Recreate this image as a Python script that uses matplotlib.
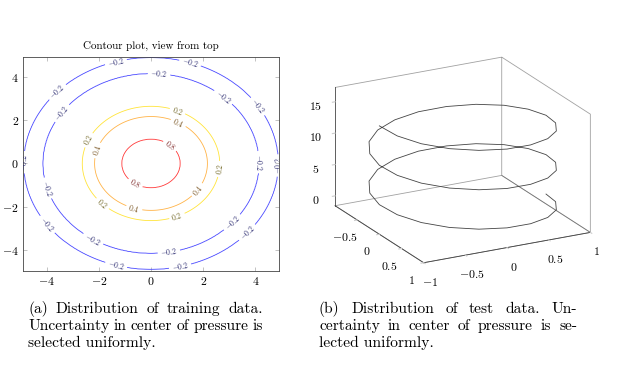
import numpy as np
import matplotlib.pyplot as plt

plt.rcParams['font.family'] = 'serif'
plt.rcParams['font.serif'] = ['cmr10']
plt.rcParams['mathtext.fontset'] = 'cm'
plt.rcParams['axes.formatter.use_mathtext'] = True

# contour plot: radial profile (radius -> value)
profile_r = [0.0, 1.12, 2.16, 2.63, 3.15, 4.13, 4.5, 4.88, 5.6]
profile_v = [1.0, 0.8, 0.4, 0.2, 0.0, -0.2, -0.22, -0.2, -0.1]
levels = [-0.2, 0.2, 0.4, 0.8]
line_colors = ['#4a4aff', '#ffe43a', '#ffb347', '#ff3b3b']
label_colors = ['#2a2a70', '#6e6320', '#7a5522', '#7a2020']
label_pos = [(-1.35, 4.71), (1.51, 4.67), (-3.58, 3.29), (4.05, 2.6), (-4.9, 0.06),
             (4.76, -0.09), (-4.08, -2.94), (3.68, -3.17), (-1.35, -4.78), (1.13, -4.81),
             (0.31, 4.13), (-3.45, 2.36), (2.72, 2.98), (-4.08, -1.17), (4.1, 0.06),
             (-2.3, -3.63), (3.1, -2.7), (0.69, -4.13),
             (1.0, 2.36), (-2.37, 1.06), (2.57, -0.25), (-1.92, -1.94), (1.0, -2.44),
             (1.0, 1.75), (-2.05, 0.6), (1.77, -1.21), (-0.65, -2.09),
             (0.69, 0.75), (-0.65, -1.01)]
contour_ticks = [-4, -2, 0, 2, 4]

# helix: one turn of the circle, repeated
ring_x = [0, .31, .59, .81, .95, 1, .95, .81, .59, .31,
          0, -.31, -.59, -.81, -.95, -1, -.95, -.81, -.59, -.31]
ring_y = [1, .95, .81, .59, .31, 0, -.31, -.59, -.81, -.95,
          -1, -.95, -.81, -.59, -.31, 0, .31, .59, .81, .95]
helix_turns = 2.5
helix_top = 15.7
x3_ticks = [-0.5, 0, 0.5, 1]
y3_ticks = [-1, -0.5, 0, 0.5, 1]
z3_ticks = [0, 5, 10, 15]

caption_a = ["(a) Distribution of training data.",
             "Uncertainty in center of pressure is",
             "selected uniformly."]
caption_b = ["(b) Distribution of test data.  Un-",
             "certainty in center of pressure is se-",
             "lected uniformly."]

W, H = 634, 377
fig = plt.figure(figsize=(W / 100, H / 100), dpi=100)

# ---- left: contour
ax = fig.add_axes([23 / W, 1 - 271 / H, 256 / W, 214 / H])
g = np.linspace(-5.2, 5.2, 301)
X, Y = np.meshgrid(g, g)
Z = np.interp(np.hypot(X, Y), profile_r, profile_v)
cs = ax.contour(X, Y, Z, levels=levels, colors=line_colors, linewidths=0.6)
lbl = ax.clabel(cs, manual=label_pos, fontsize=5.5, inline=True, inline_spacing=2,
                fmt=lambda v: f'${v:g}$')
for t in lbl:
    v = float(t.get_text().strip('$'))
    t.set_color(label_colors[levels.index(round(v, 1))])
ax.set_xlim(-4.9, 4.9)
ax.set_ylim(-4.95, 4.9)
ax.set_xticks(contour_ticks)
ax.set_yticks(contour_ticks)
ax.tick_params(direction='in', length=3, width=0.5, color='#aaaaaa', labelsize=8.5,
               top=True, right=True, pad=3)
for s in ax.spines.values():
    s.set_linewidth(0.6)
    s.set_color('#444444')
ax.set_title('Contour plot, view from top', fontsize=7.9, pad=6)

# ---- right: helix
ax3 = fig.add_axes([0.4637, 0.1855, 0.52, 0.76], projection='3d', proj_type='ortho')
n = int(helix_turns * len(ring_x)) + 1
idx = np.arange(n) % len(ring_x)
hx = np.array(ring_x)[idx]
hy = np.array(ring_y)[idx]
hz = np.linspace(0, helix_top, n)
ax3.plot(hx, hy, hz, color='#444444', lw=0.6)
ax3.set_xlim(-1, 1)
ax3.set_ylim(-1, 1)
ax3.set_zlim(-1.57, 17.28)
ax3.set_xticks(x3_ticks, labels=[f'${v:g}$' for v in x3_ticks])
ax3.set_yticks(y3_ticks, labels=[f'${v:g}$' for v in y3_ticks])
ax3.set_zticks(z3_ticks, labels=[f'${v:g}$' for v in z3_ticks])
ax3.view_init(elev=20, azim=-28)
ax3.set_box_aspect((1.5, 1.5, 1), zoom=1.0)
ax3.grid(False)
ax3.patch.set_alpha(0)
for a in (ax3.xaxis, ax3.yaxis, ax3.zaxis):
    a.pane.fill = False
    a.pane.set_edgecolor('#444444')
    a.pane.set_linewidth(0.6)
    a.line.set_linewidth(0.6)
    a.line.set_color('#444444')
    a._axinfo['tick']['inward_factor'] = 0.2
    a._axinfo['tick']['outward_factor'] = 0.0
    a._axinfo['tick']['color'] = '#cccccc'
    a.set_tick_params(labelsize=8.5, pad=0, color='#cccccc', width=0.5)
ax3.zaxis.set_ticks_position('lower')


def justified(lines, x0, x1, y0, dy, size=11.2):
    r = fig.canvas.get_renderer()
    for i, line in enumerate(lines):
        y = 1 - (y0 + i * dy) / H
        words = line.split()
        if i == len(lines) - 1:
            fig.text(x0 / W, y, line, fontsize=size, va='baseline')
            continue
        texts = [fig.text(0, y, w, fontsize=size, va='baseline') for w in words]
        widths = [t.get_window_extent(r).width for t in texts]
        gap = (x1 - x0 - sum(widths)) / (len(words) - 1)
        x = x0
        for t, w in zip(texts, widths):
            t.set_x(x / W)
            x += w + gap


justified(caption_a, 28, 263, 313, 17.2)
justified(caption_b, 319, 577, 313, 17.2)

fig.savefig('out.png', dpi=100)
